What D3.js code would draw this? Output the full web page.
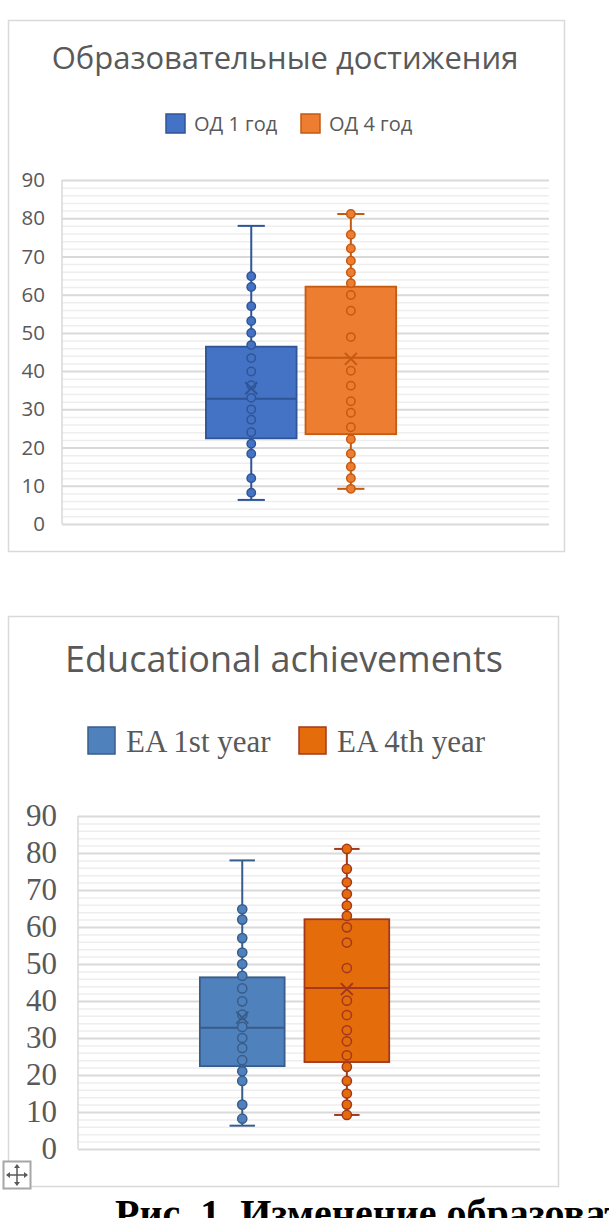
<!DOCTYPE html>
<html>
<head>
<meta charset="utf-8">
<script src="https://cdn.jsdelivr.net/npm/d3@7"></script>
<style>
  body { margin: 0; background: #fff; }
  svg { display: block; }
</style>
</head>
<body>
<svg id="page"></svg>
<script>
// same data drawn twice: russian chart on top, english copy below
let seriesRu = ['ОД 1 год', 'ОД 4 год']
let seriesEn = ['EA 1st year', 'EA 4th year']
let yTicks = [0, 10, 20, 30, 40, 50, 60, 70, 80, 90]

// box stats per series (1st year, 4th year)
let lowWhisker = [6.3, 9.2]
let q1 = [22.4, 23.5]
let median = [32.8, 43.5]
let q3 = [46.4, 62.1]
let highWhisker = [78.0, 81.1]
let mean = [35.5, 43.2]

// markers visible along each box
let points1 = [64.8, 62.0, 57.0, 53.1, 50.0, 46.8, 43.4, 39.9, 36.3, 33.0, 30.0, 27.3, 24.0, 21.0, 18.4, 12.0, 8.2]
let points4 = [81.1, 75.7, 72.1, 68.9, 65.8, 63.0, 59.9, 55.8, 48.9, 40.1, 36.2, 32.1, 29.1, 25.3, 22.2, 18.4, 15.0, 12.0, 9.2]
let allPoints = [points1, points4]

let pageW = 609
let pageH = 1218

let svg = d3.select('#page')
  .attr('width', pageW)
  .attr('height', pageH)

function drawBoxChart(opt) {
  let g = svg.append('g')
  let plotW = opt.plot.right - opt.plot.left

  g.append('rect') // chart frame
    .attr('x', opt.frame[0] + 0.5)
    .attr('y', opt.frame[1] + 0.5)
    .attr('width', opt.frame[2] - opt.frame[0])
    .attr('height', opt.frame[3] - opt.frame[1])
    .attr('fill', '#fff')
    .attr('stroke', '#d9d9d9')
    .attr('stroke-width', 1.5)

  g.append('text') // title
    .attr('x', opt.title.x)
    .attr('y', opt.title.y)
    .attr('text-anchor', 'middle')
    .style('font-family', opt.title.font)
    .style('font-size', opt.title.size + 'px')
    .attr('fill', '#595959')
    .text(opt.title.text)

  // legend
  opt.series.forEach((s, i) => {
    g.append('rect')
      .attr('x', opt.legend.x[i])
      .attr('y', opt.legend.y)
      .attr('width', opt.legend.box)
      .attr('height', opt.legend.box)
      .attr('fill', opt.fill[i])
      .attr('stroke', opt.stroke[i])
      .attr('stroke-width', 1.5)
    g.append('text')
      .attr('x', opt.legend.x[i] + opt.legend.box + opt.legend.gap)
      .attr('y', opt.legend.baseline)
      .style('font-family', opt.legend.font)
      .style('font-size', opt.legend.size + 'px')
      .attr('fill', '#595959')
      .text(s)
  })

  let y = d3.scaleLinear()
    .domain([0, 90])
    .range([opt.plot.bottom, opt.plot.top])

  let x0 = d3.scaleBand()
    .domain(['all'])
    .range([opt.plot.left, opt.plot.right])
    .paddingOuter(opt.outerPad)
    .align(opt.align)

  let x1 = d3.scaleBand()
    .domain(d3.range(opt.series.length))
    .range([0, x0.bandwidth()])
    .paddingInner(opt.innerPad)

  g.append('g') // minor gridlines, every 2
    .attr('transform', 'translate(' + opt.plot.left + ',0)')
    .call(d3.axisLeft(y).tickValues(y.ticks(45).filter(v => v % 10 != 0)).tickSize(-plotW).tickFormat(''))
    .call(a => a.select('.domain').remove())
    .selectAll('line')
    .attr('stroke', '#eeeeee')
    .attr('stroke-width', 1.5)

  let yAxis = g.append('g') // major gridlines + labels
    .attr('transform', 'translate(' + opt.plot.left + ',0)')
    .call(d3.axisLeft(y).tickValues(yTicks).tickSize(-plotW).tickPadding(opt.tick.pad))
  yAxis.select('.domain').remove()
  yAxis.selectAll('line')
    .attr('stroke', '#d9d9d9')
    .attr('stroke-width', 2)
  yAxis.selectAll('text')
    .style('font-family', opt.tick.font)
    .style('font-size', opt.tick.size + 'px')
    .attr('fill', '#595959')

  g.append('line') // value axis line
    .attr('x1', opt.plot.left)
    .attr('x2', opt.plot.left)
    .attr('y1', y(90))
    .attr('y2', y(0))
    .attr('stroke', '#d9d9d9')
    .attr('stroke-width', 1.5)

  opt.series.forEach((s, i) => {
    let bx = x0('all') + x1(i)
    let bw = x1.bandwidth()
    let cx = bx + bw / 2
    let cap = bw * 0.15

    let b = g.append('g')

    // whiskers
    b.append('line')
      .attr('x1', cx).attr('x2', cx)
      .attr('y1', y(q3[i])).attr('y2', y(highWhisker[i]))
      .attr('stroke', opt.stroke[i]).attr('stroke-width', 2)
    b.append('line')
      .attr('x1', cx).attr('x2', cx)
      .attr('y1', y(q1[i])).attr('y2', y(lowWhisker[i]))
      .attr('stroke', opt.stroke[i]).attr('stroke-width', 2)
    b.selectAll('.cap')
      .data([lowWhisker[i], highWhisker[i]])
      .enter()
      .append('line')
      .attr('class', 'cap')
      .attr('x1', cx - cap).attr('x2', cx + cap)
      .attr('y1', d => y(d)).attr('y2', d => y(d))
      .attr('stroke', opt.stroke[i]).attr('stroke-width', 2)

    b.append('rect') // box
      .attr('x', bx)
      .attr('y', y(q3[i]))
      .attr('width', bw)
      .attr('height', y(q1[i]) - y(q3[i]))
      .attr('fill', opt.fill[i])
      .attr('stroke', opt.stroke[i])
      .attr('stroke-width', 1.8)

    b.append('line') // median
      .attr('x1', bx).attr('x2', bx + bw)
      .attr('y1', y(median[i])).attr('y2', y(median[i]))
      .attr('stroke', opt.stroke[i]).attr('stroke-width', 2)

    b.selectAll('circle') // points
      .data(allPoints[i])
      .enter()
      .append('circle')
      .attr('cx', cx)
      .attr('cy', d => y(d))
      .attr('r', opt.r)
      .attr('fill', opt.fill[i])
      .attr('stroke', opt.stroke[i])
      .attr('stroke-width', 1.5)

    let m = 6 // mean marker
    b.append('path')
      .attr('d', `M${cx - m},${y(mean[i]) - m}L${cx + m},${y(mean[i]) + m}M${cx - m},${y(mean[i]) + m}L${cx + m},${y(mean[i]) - m}`)
      .attr('stroke', opt.stroke[i])
      .attr('stroke-width', 2)
      .attr('fill', 'none')
  })
}

drawBoxChart({
  series: seriesRu,
  frame: [8, 20, 564, 551],
  plot: { left: 62, right: 549, top: 180, bottom: 524 },
  title: { text: 'Образовательные достижения', x: 285, y: 69, font: 'Open Sans', size: 31 },
  legend: { x: [166, 301], y: 114, box: 19, gap: 9, baseline: 131, font: 'Open Sans', size: 20 },
  tick: { font: 'Open Sans', size: 20.5, pad: 17 },
  outerPad: 0.78, align: 0.485, innerPad: 0.09,
  fill: ['#4472c4', '#ed7d31'],
  stroke: ['#2f5597', '#c55a11'],
  r: 4.2
})

drawBoxChart({
  series: seriesEn,
  frame: [8, 616, 558, 1186],
  plot: { left: 78, right: 540, top: 816, bottom: 1149 },
  title: { text: 'Educational achievements', x: 284, y: 672, font: 'Open Sans', size: 36 },
  legend: { x: [88, 299], y: 727, box: 27, gap: 11, baseline: 752, font: 'Liberation Serif', size: 31 },
  tick: { font: 'Liberation Serif', size: 31, pad: 21 },
  outerPad: 0.72, align: 0.447, innerPad: 0.19,
  fill: ['#4f81bd', '#e46c0a'],
  stroke: ['#385d8a', '#a3381c'],
  r: 4.6
})

// word's table move handle in the corner
let handle = svg.append('g').attr('transform', 'translate(3,1161)')
handle.append('rect')
  .attr('x', 0.5).attr('y', 0.5)
  .attr('width', 27).attr('height', 27)
  .attr('fill', '#fff')
  .attr('stroke', '#a6a6a6')
  .attr('stroke-width', 2)
handle.append('path')
  .attr('d', 'M4,14H24M14,4V24')
  .attr('stroke', '#595959')
  .attr('stroke-width', 1.5)
handle.append('path')
  .attr('d', 'M3,14L7,11V17Z M25,14L21,11V17Z M14,3L11,7H17Z M14,25L11,21H17Z')
  .attr('fill', '#595959')

// figure caption, cut off by the page edge
svg.append('text')
  .attr('x', 115)
  .attr('y', 1227)
  .style('font-family', 'Liberation Serif')
  .style('font-weight', 'bold')
  .style('font-size', '40px')
  .attr('fill', '#000')
  .text('Рис. 1. Изменение образовательных достижений')
</script>
</body>
</html>
